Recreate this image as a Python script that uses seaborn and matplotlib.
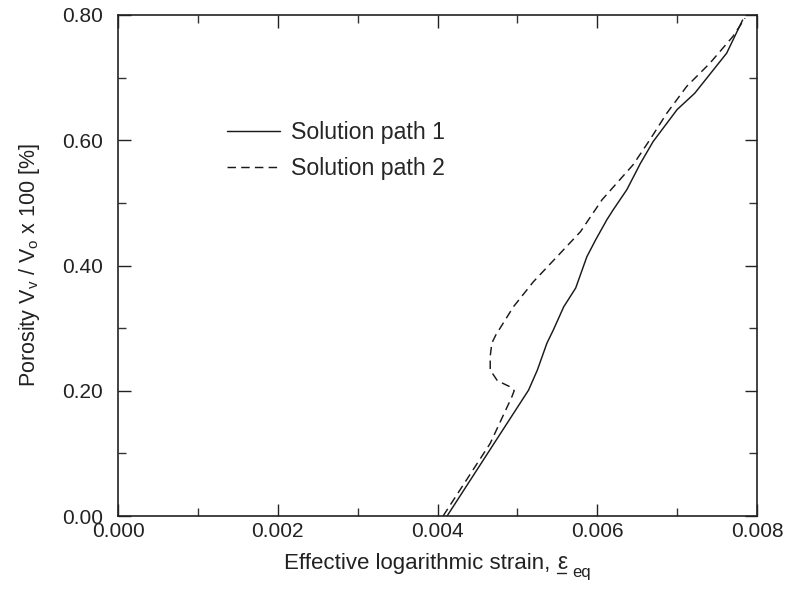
import numpy as np
import pandas as pd
import matplotlib
matplotlib.use("Agg")
import matplotlib.pyplot as plt
import seaborn as sns
from matplotlib.ticker import MultipleLocator, FormatStrFormatter
from matplotlib.lines import Line2D

# --- data ---
path1_strain = [0.00412, 0.00514, 0.00525, 0.00537, 0.00545, 0.00558, 0.00573, 0.00587,
                0.00598, 0.00612, 0.00620, 0.00637, 0.00654, 0.00670, 0.00700, 0.00722,
                0.00737, 0.00762, 0.00782]
path1_porosity = [0.000, 0.201, 0.233, 0.276, 0.297, 0.334, 0.364, 0.414,
                  0.441, 0.473, 0.489, 0.521, 0.563, 0.598, 0.649, 0.675,
                  0.699, 0.739, 0.792]

path2_strain = [0.00407, 0.00466, 0.00493, 0.00496, 0.00493, 0.00475, 0.00466, 0.00466,
                0.00468, 0.00473, 0.00495, 0.00520, 0.00554, 0.00579, 0.00606, 0.00645,
                0.00666, 0.00687, 0.00712, 0.00741, 0.00770, 0.00785]
path2_porosity = [0.000, 0.116, 0.190, 0.200, 0.205, 0.216, 0.233, 0.255,
                  0.276, 0.289, 0.334, 0.374, 0.420, 0.454, 0.505, 0.561,
                  0.601, 0.643, 0.686, 0.723, 0.766, 0.795]

series_names = ["Solution path 1", "Solution path 2"]
x_ticks = [0.000, 0.002, 0.004, 0.006, 0.008]
y_ticks = [0.00, 0.20, 0.40, 0.60, 0.80]

df = pd.concat([
    pd.DataFrame({"strain": path1_strain, "porosity": path1_porosity,
                  "series": series_names[0]}),
    pd.DataFrame({"strain": path2_strain, "porosity": path2_porosity,
                  "series": series_names[1]}),
], ignore_index=True)

sns.set_theme(style="white")
plt.rcParams["font.family"] = ["Liberation Sans", "DejaVu Sans"]
plt.rcParams["mathtext.fontset"] = "custom"
plt.rcParams["mathtext.rm"] = "Liberation Sans"
plt.rcParams["mathtext.it"] = "Liberation Sans"
plt.rcParams["mathtext.sf"] = "Liberation Sans"

INK = "#222222"
W, H = 787, 594
L, R, T, B = 118, 757, 15, 516
fig = plt.figure(figsize=(W / 100, H / 100), dpi=100)
ax = fig.add_axes([L / W, 1 - B / H, (R - L) / W, (B - T) / H])

sns.lineplot(data=df, x="strain", y="porosity", style="series", sort=False,
             estimator=None, color="#1a1a1a", linewidth=1.05,
             dashes={series_names[0]: "", series_names[1]: (5.8, 3.6)},
             style_order=series_names, ax=ax, legend=True)

ax.set_xlim(x_ticks[0], x_ticks[-1])
ax.set_ylim(y_ticks[0], y_ticks[-1])
ax.set_xticks(x_ticks)
ax.set_yticks(y_ticks)
ax.xaxis.set_major_formatter(FormatStrFormatter("%.3f"))
ax.yaxis.set_major_formatter(FormatStrFormatter("%.2f"))
ax.xaxis.set_minor_locator(MultipleLocator(0.001))
ax.yaxis.set_minor_locator(MultipleLocator(0.1))
ax.tick_params(which="both", direction="in", top=True, right=True,
               bottom=True, left=True, color="#333333", width=1.0)
ax.tick_params(which="major", length=9, labelsize=15, colors=INK)
ax.tick_params(which="minor", length=5.5)
ax.tick_params(axis="x", which="major", pad=4, labelcolor=INK)
ax.tick_params(axis="y", which="major", pad=11, labelcolor=INK)
for s in ax.spines.values():
    s.set_color(INK)
    s.set_linewidth(1.2)

ax.set_xlabel("")
ax.set_ylabel(r"Porosity V$_\mathrm{v}$ / V$_\mathrm{o}$ x 100 [%]",
              fontsize=15.5, color=INK, labelpad=14)

handles, labels = ax.get_legend_handles_labels()
ax.legend(handles=handles, labels=labels, loc="center left",
          bbox_to_anchor=(0.1706, 0.729), frameon=False, fontsize=16.7,
          handlelength=2.3, handletextpad=0.45, labelspacing=0.56,
          borderpad=0, borderaxespad=0)

# x label built from pieces: text, underlined epsilon, subscript "eq"
base_y = 1 - 569 / H
t1 = fig.text(0, base_y, "Effective logarithmic strain, ", fontsize=16,
              color=INK, va="baseline", ha="left")
t2 = fig.text(0, base_y, "\u03b5", fontsize=16.5, color=INK, va="baseline", ha="left")
t3 = fig.text(0, base_y - 8 / H, "eq", fontsize=12, color=INK, va="baseline", ha="left")
fig.canvas.draw()
r = fig.canvas.get_renderer()
w1 = t1.get_window_extent(r).width
w2 = t2.get_window_extent(r).width
w3 = t3.get_window_extent(r).width
gap = 5
total = w1 + w2 + gap + w3
center = (L + R) / 2
x0 = center - total / 2
t1.set_x(x0 / W)
t2.set_x((x0 + w1) / W)
t3.set_x((x0 + w1 + w2 + gap) / W)
ux0 = x0 + w1 + 0.5
ux1 = x0 + w1 + w2 - 0.5
uy = 1 - 572.5 / H
fig.add_artist(Line2D([ux0 / W, ux1 / W], [uy, uy], transform=fig.transFigure,
                      color=INK, linewidth=1.0))

fig.savefig("out.png", dpi=100)
